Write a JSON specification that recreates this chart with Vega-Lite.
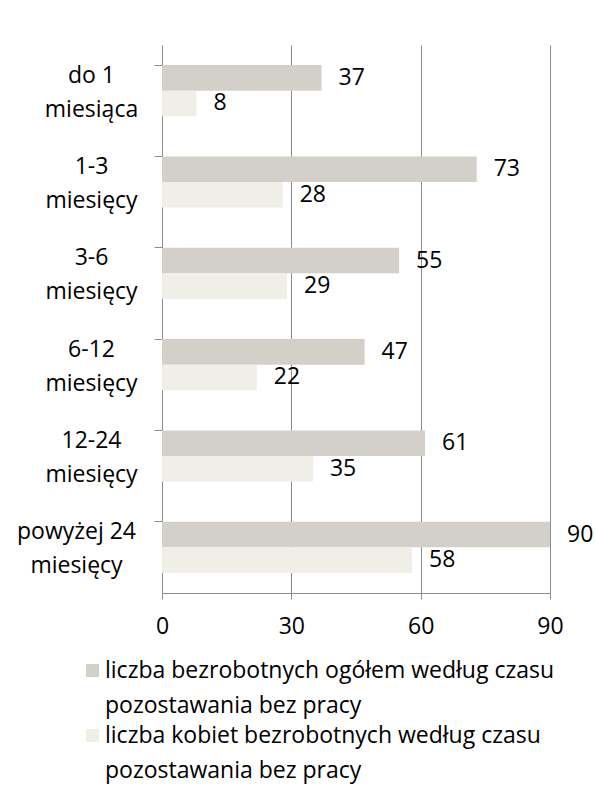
{
  "$schema": "https://vega.github.io/schema/vega-lite/v6.json",
  "autosize": "none",
  "width": 388,
  "height": 548,
  "padding": {"left": 162, "top": 45, "right": 45, "bottom": 203},
  "background": "white",
  "config": {
    "view": {"stroke": null},
    "font": "Open Sans",
    "axis": {"labelFont": "Open Sans", "labelColor": "#000000", "labelFontSize": 23, "domainColor": "#8c8c8c", "tickColor": "#8c8c8c", "gridColor": "#8c8c8c"},
    "legend": {"labelFont": "Open Sans", "labelColor": "#000000", "labelFontSize": 23}
  },
  "data": {
    "values": [
      {"okres": "do 1|miesiąca", "seria": "liczba bezrobotnych ogółem według czasu|pozostawania bez pracy", "wartosc": 37},
      {"okres": "do 1|miesiąca", "seria": "liczba kobiet bezrobotnych według czasu|pozostawania bez pracy", "wartosc": 8},
      {"okres": "1-3|miesięcy", "seria": "liczba bezrobotnych ogółem według czasu|pozostawania bez pracy", "wartosc": 73},
      {"okres": "1-3|miesięcy", "seria": "liczba kobiet bezrobotnych według czasu|pozostawania bez pracy", "wartosc": 28},
      {"okres": "3-6|miesięcy", "seria": "liczba bezrobotnych ogółem według czasu|pozostawania bez pracy", "wartosc": 55},
      {"okres": "3-6|miesięcy", "seria": "liczba kobiet bezrobotnych według czasu|pozostawania bez pracy", "wartosc": 29},
      {"okres": "6-12|miesięcy", "seria": "liczba bezrobotnych ogółem według czasu|pozostawania bez pracy", "wartosc": 47},
      {"okres": "6-12|miesięcy", "seria": "liczba kobiet bezrobotnych według czasu|pozostawania bez pracy", "wartosc": 22},
      {"okres": "12-24|miesięcy", "seria": "liczba bezrobotnych ogółem według czasu|pozostawania bez pracy", "wartosc": 61},
      {"okres": "12-24|miesięcy", "seria": "liczba kobiet bezrobotnych według czasu|pozostawania bez pracy", "wartosc": 35},
      {"okres": "powyżej 24|miesięcy", "seria": "liczba bezrobotnych ogółem według czasu|pozostawania bez pracy", "wartosc": 90},
      {"okres": "powyżej 24|miesięcy", "seria": "liczba kobiet bezrobotnych według czasu|pozostawania bez pracy", "wartosc": 58}
    ]
  },
  "encoding": {
    "y": {
      "field": "okres",
      "type": "nominal",
      "sort": ["do 1|miesiąca", "1-3|miesięcy", "3-6|miesięcy", "6-12|miesięcy", "12-24|miesięcy", "powyżej 24|miesięcy"],
      "scale": {"paddingInner": 0.44, "paddingOuter": 0.22},
      "axis": {
        "title": null,
        "labelExpr": "split(datum.value, '|')",
        "labelAlign": "center",
        "labelBaseline": "middle",
        "labelLineHeight": 34,
        "labelOffset": -15,
        "labelPadding": {"condition": {"test": "datum.value == 'powyżej 24|miesięcy'", "value": 78}, "value": 63},
        "tickSize": 8,
        "bandPosition": 0,
        "labelLimit": 200
      }
    },
    "yOffset": {
      "field": "seria",
      "type": "nominal",
      "sort": ["liczba bezrobotnych ogółem według czasu|pozostawania bez pracy", "liczba kobiet bezrobotnych według czasu|pozostawania bez pracy"],
      "scale": {"paddingInner": 0, "paddingOuter": 0}
    },
    "x": {
      "field": "wartosc",
      "type": "quantitative",
      "scale": {"domain": [0, 90], "nice": false},
      "axis": {"title": null, "values": [0, 30, 60, 90], "grid": true, "tickSize": 6, "labelPadding": 16, "labelFlush": false}
    }
  },
  "layer": [
    {
      "mark": {"type": "bar"},
      "encoding": {
        "color": {
          "field": "seria",
          "type": "nominal",
          "sort": ["liczba bezrobotnych ogółem według czasu|pozostawania bez pracy", "liczba kobiet bezrobotnych według czasu|pozostawania bez pracy"],
          "scale": {"range": ["#d3d0c9", "#efefe7"]},
          "legend": {
            "title": null,
            "orient": "none",
            "legendX": -81,
            "legendY": 614,
            "direction": "vertical",
            "labelExpr": "split(datum.label, '|')",
            "labelLimit": 600,
            "labelFontSize": 23,
            "labelBaseline": "middle",
            "symbolType": "square",
            "symbolSize": 169,
            "symbolStrokeWidth": 0,
            "rowPadding": 6,
            "labelOffset": 1,
            "encoding": {"labels": {"lineHeight": {"value": 35}}}
          }
        }
      }
    },
    {
      "mark": {"type": "text", "align": "left", "baseline": "middle", "dx": 17, "fontSize": 23, "font": "Open Sans", "color": "#000000"},
      "encoding": {"text": {"field": "wartosc", "type": "quantitative"}}
    }
  ]
}
